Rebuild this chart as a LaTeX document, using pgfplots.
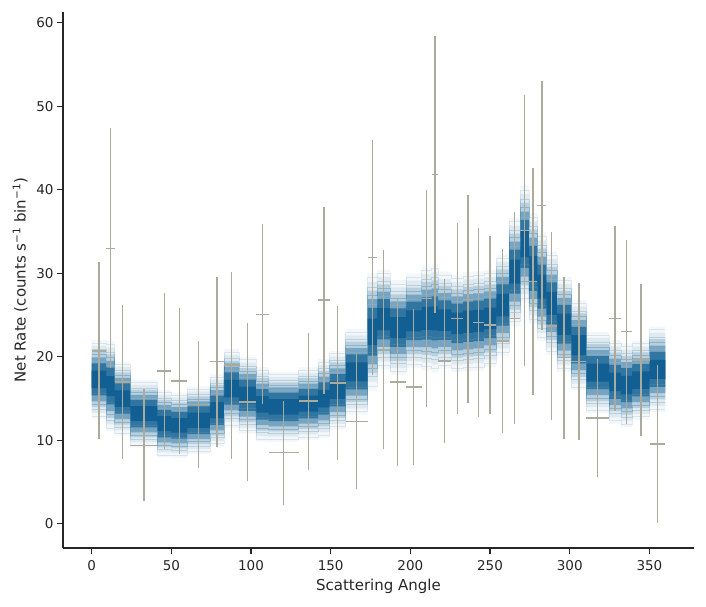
\documentclass[border=0pt]{standalone}
\usepackage{pgfplots}
\pgfplotsset{compat=1.18}
\usepgfplotslibrary{fillbetween}
\usepackage{pgfplotstable}
\usepackage{fontspec}
\setmainfont{DejaVu Sans}
\definecolor{bandc}{RGB}{12,92,144}
\definecolor{errc}{RGB}{170,170,157}
\definecolor{axc}{RGB}{38,38,38}

% model band: left bin edge, centre, spread
\pgfplotstableread{
x c s
0 17.3 1.75
9.2 16.5 2.0
14.4 15.0 1.65
24.3 13.2 1.5
41.2 12.0 1.5
50.0 11.8 1.45
60.1 12.4 1.5
74.1 13.6 1.6
83.0 16.2 1.75
92.3 15.4 1.7
103.0 14.3 1.65
111.1 14.0 1.55
129.9 14.4 1.6
142.1 15.0 1.75
149.4 16.0 1.75
159.3 18.2 1.9
173.1 23.0 2.6
179.1 24.5 2.2
187.1 23.5 2.1
197.1 24.3 2.1
207.0 24.6 2.3
213.3 24.6 2.4
217.4 24.4 2.15
225.8 24.0 2.15
233.1 24.2 2.2
239.4 24.3 2.2
246.1 24.6 2.15
254.0 26.2 2.25
262.0 30.2 2.4
269.1 33.5 2.6
274.3 30.6 2.45
279.7 28.4 2.4
285.4 26.4 2.3
291.9 23.9 2.1
301.1 21.4 2.0
310.5 18.1 1.8
324.7 17.0 1.85
332.1 16.6 1.85
339.2 17.2 1.75
350.1 18.5 1.9
360 18.5 1.9
}\modeltab

% data: bin centre, rate, half bin width, error
\pgfplotstableread{
x y ex ey
4.6 20.7 4.6 10.6
11.8 33.0 2.6 14.4
19.35 17.0 4.95 9.2
32.75 9.4 8.45 6.7
45.6 18.3 4.4 9.3
55.05 17.1 5.05 8.8
67.1 14.3 7.0 7.6
78.55 19.4 4.45 10.2
87.65 19.0 4.65 11.2
97.65 14.6 5.35 9.5
107.05 25.1 4.05 10.8
120.5 8.5 9.4 6.2
136.0 14.7 6.1 8.2
145.75 26.8 3.65 11.2
154.35 16.85 4.95 9.2
166.2 12.25 6.9 8.1
176.1 31.9 3.0 14.1
183.1 20.9 4.0 11.9
192.1 17.0 5.0 10.1
202.05 16.4 4.95 9.3
210.15 27.0 3.15 13.0
215.35 41.8 2.05 16.6
221.6 19.5 4.2 9.8
229.45 24.55 3.65 11.45
236.25 26.9 3.15 12.45
242.75 24.1 3.35 11.3
250.05 23.8 3.95 10.7
258.0 21.9 4.0 11.0
265.55 24.6 3.55 12.7
271.7 35.15 2.6 16.25
277.0 29.0 2.7 13.6
282.55 38.1 2.85 14.9
288.65 23.7 3.25 11.3
296.5 19.9 4.6 9.7
305.8 19.4 4.7 9.4
317.6 12.65 7.1 7.1
328.4 24.6 3.7 11.1
335.65 23.0 3.55 11.0
344.65 19.6 5.45 9.1
355.05 9.55 4.95 9.5
}\errtab

\newcommand{\bandlayer}[3]{%
  \addplot[const plot, draw=none, forget plot, name path=u#1] table[x=x, y expr=\thisrow{c}+#2*\thisrow{s}] {\modeltab};
  \addplot[const plot, draw=none, forget plot, name path=l#1] table[x=x, y expr=\thisrow{c}-#2*\thisrow{s}] {\modeltab};
  \addplot[bandc, draw=none, fill opacity=#3, forget plot] fill between[of=u#1 and l#1];
}
\newcommand{\sampleline}[3]{%
  \addplot[const plot, #3, line width=0.5pt, opacity=#2, forget plot] table[x=x, y expr=\thisrow{c}+#1*\thisrow{s}] {\modeltab};
}

\begin{document}
\begin{tikzpicture}
\begin{axis}[
  at={(0pt,0pt)}, anchor=south west,
  scale only axis, width=631pt, height=536pt,
  xmin=-18, xmax=378, ymin=-2.9, ymax=61.3,
  axis x line*=bottom, axis y line*=left,
  axis line style={axc, line width=1.2pt},
  tick align=outside, major tick length=6pt,
  every tick/.style={axc, line width=1.2pt},
  xtick={0,50,...,350}, ytick={0,10,...,60},
  /pgf/number format/assume math mode=true,
  tick label style={font=\fontsize{13.5pt}{16pt}\selectfont, text=axc},
  xticklabel style={yshift=-3pt},
  label style={font=\fontsize{15pt}{18pt}\selectfont, text=axc},
  xlabel={Scattering Angle},
  ylabel={Net Rate (counts s\textsuperscript{−1} bin\textsuperscript{−1})},
  xlabel style={at={(axis description cs:0.5,-0.071)}, anchor=center},
  ylabel style={at={(axis description cs:-0.068,0.5)}, anchor=center},
  clip=false,
]
\bandlayer{a}{2.7}{0.05}
\bandlayer{b}{2.3}{0.09}
\bandlayer{c}{1.9}{0.18}
\bandlayer{d}{1.5}{0.38}
\bandlayer{e}{1.1}{0.65}
\bandlayer{f}{0.6}{0.85}
\sampleline{2.5}{0.12}{bandc}
\sampleline{-2.5}{0.12}{bandc}
\sampleline{2.05}{0.18}{bandc}
\sampleline{-2.05}{0.18}{bandc}
\sampleline{1.7}{0.25}{bandc}
\sampleline{-1.7}{0.25}{bandc}
\sampleline{1.25}{0.07}{white}
\sampleline{-0.95}{0.06}{white}
\addplot[draw=none, mark=none, forget plot,
  error bars/.cd, x dir=both, x explicit, y dir=both, y explicit,
  error mark=none, error bar style={draw=errc, line width=1.35pt}]
  table[x=x, y=y, x error=ex, y error=ey] {\errtab};
\end{axis}
\pgfresetboundingbox
\path[use as bounding box] (-63pt,-59pt) rectangle (643pt,548pt);
\end{tikzpicture}
\end{document}
